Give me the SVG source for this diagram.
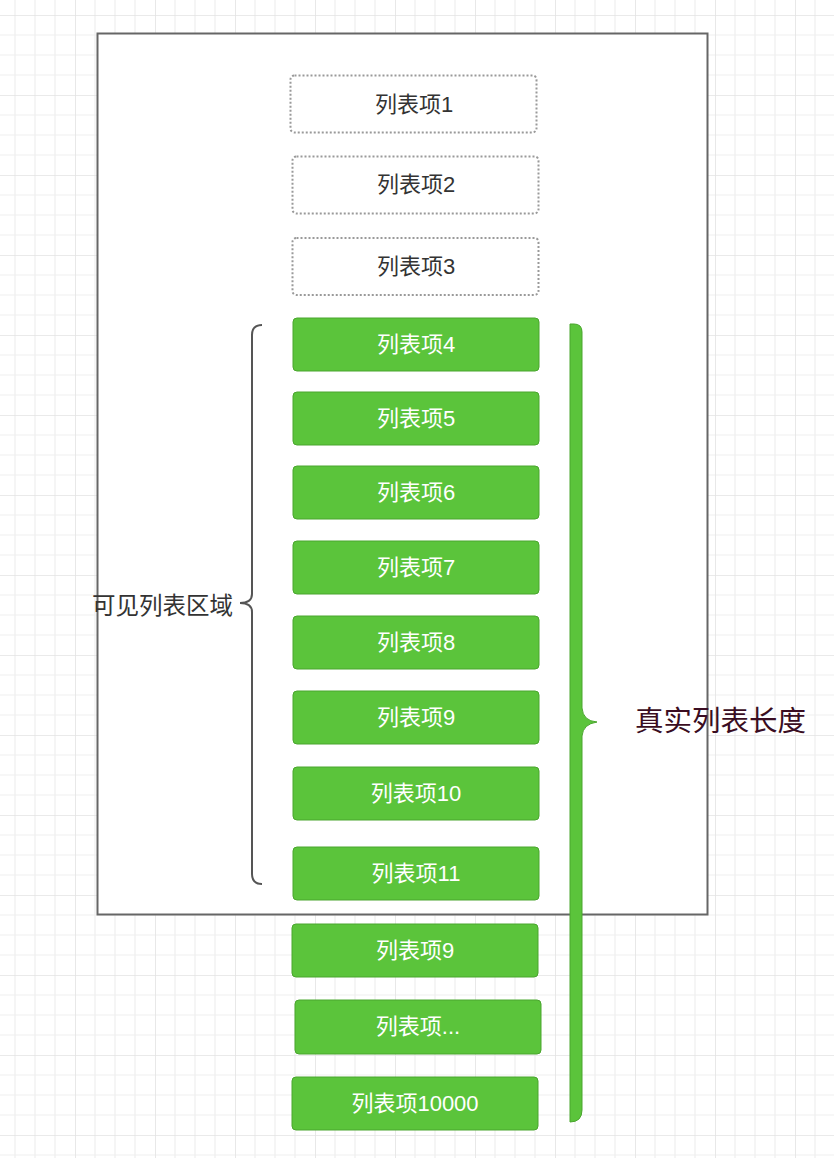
<svg xmlns="http://www.w3.org/2000/svg" width="834" height="1158" viewBox="0 0 834 1158">
<style>
.dot{fill:#fff;stroke:#9a9a9a;stroke-width:2;stroke-dasharray:2 2}
.grn{fill:#5bc43b;stroke:#4aa62e;stroke-width:1}
.t{font-family:"Liberation Sans","Noto Sans CJK SC",sans-serif;font-size:22px;text-anchor:middle;dominant-baseline:central}
.dk{fill:#333}
.wt{fill:#fff}
</style>
<defs>
<pattern id="grid" patternUnits="userSpaceOnUse" x="75" y="15" width="80" height="80">
<path d="M20,0V80M40,0V80M60,0V80M0,20H80M0,40H80M0,60H80" stroke="#efefef" stroke-width="1.2" fill="none"/>
<path d="M0,0V80M0,0H80" stroke="#e3e3e3" stroke-width="1.6" fill="none"/>
</pattern>
</defs>
<rect width="834" height="1158" fill="#fff"/>
<rect width="834" height="1158" fill="url(#grid)"/>
<g id="frame"><rect x="97.5" y="33.5" width="610" height="881" fill="#fff" stroke="#666" stroke-width="2"/></g>
<g id="item1"><rect class="dot" x="290.5" y="75.5" width="246" height="57" rx="4"/><text class="t dk" x="414" y="104">列表项1</text></g>
<g id="item2"><rect class="dot" x="292.5" y="156.5" width="246" height="57" rx="4"/><text class="t dk" x="416" y="184">列表项2</text></g>
<g id="item3"><rect class="dot" x="292.5" y="238" width="246" height="57" rx="4"/><text class="t dk" x="416" y="266">列表项3</text></g>
<g id="item4"><rect class="grn" x="293" y="318" width="246" height="53" rx="4"/><text class="t wt" x="416" y="344.5">列表项4</text></g>
<g id="item5"><rect class="grn" x="293" y="392" width="246" height="53" rx="4"/><text class="t wt" x="416" y="418.5">列表项5</text></g>
<g id="item6"><rect class="grn" x="293" y="466" width="246" height="53" rx="4"/><text class="t wt" x="416" y="492.5">列表项6</text></g>
<g id="item7"><rect class="grn" x="293" y="541" width="246" height="53" rx="4"/><text class="t wt" x="416" y="567.5">列表项7</text></g>
<g id="item8"><rect class="grn" x="293" y="616" width="246" height="53" rx="4"/><text class="t wt" x="416" y="642.5">列表项8</text></g>
<g id="item9"><rect class="grn" x="293" y="691" width="246" height="53" rx="4"/><text class="t wt" x="416" y="717.5">列表项9</text></g>
<g id="item10"><rect class="grn" x="293" y="767" width="246" height="53" rx="4"/><text class="t wt" x="416" y="793.5">列表项10</text></g>
<g id="item11"><rect class="grn" x="293" y="847" width="246" height="53" rx="4"/><text class="t wt" x="416" y="873.5">列表项11</text></g>
<g id="item9b"><rect class="grn" x="292" y="924" width="246" height="53" rx="4"/><text class="t wt" x="415" y="950">列表项9</text></g>
<g id="itemEllipsis"><rect class="grn" x="295" y="1000" width="246" height="54" rx="4"/><text class="t wt" x="418" y="1026">列表项...</text></g>
<g id="item10000"><rect class="grn" x="292" y="1077" width="246" height="53" rx="4"/><text class="t wt" x="415" y="1103">列表项10000</text></g>
<g id="connectors">
<path id="visibleBrace" d="M262,325 Q252,325 252,335 L252,594 Q252,603 240,603 Q252,603 252,612 L252,874 Q252,884 262,884" fill="none" stroke="#555" stroke-width="2"/>
<path id="realBrace" d="M570,324 L574,324 Q582,324 582,332 L582,708 Q583,721 597,722 Q583,724 582,736 L582,1110 Q582,1122 570,1122 Z" fill="#5bc43b" stroke="#4aa62e" stroke-width="1"/>
</g>
<g id="labelVisible"><text x="92" y="604" style="font-family:'Noto Sans CJK SC',sans-serif;font-size:23.5px;dominant-baseline:central" fill="#333">可见列表区域</text></g>
<g id="labelReal"><text x="635" y="718" style="font-family:'Noto Sans CJK SC',sans-serif;font-size:28.5px;dominant-baseline:central" fill="#3a0d22">真实列表长度</text></g>
</svg>
